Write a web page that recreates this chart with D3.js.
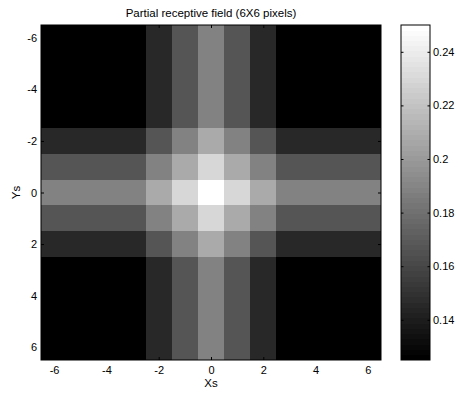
<!DOCTYPE html>
<html>
<head>
<meta charset="utf-8">
<script src="https://cdn.jsdelivr.net/npm/d3@7"></script>
<style>
  html, body { margin: 0; padding: 0; background: #fff; }
  svg { display: block; font-family: "Liberation Sans", Arial, sans-serif; }
</style>
</head>
<body>
<svg id="chart" width="459" height="395"></svg>
<script>
// Grid coordinates (pixel offsets of the receptive field)
const xs = [-6, -5, -4, -3, -2, -1, 0, 1, 2, 3, 4, 5, 6];
const ys = [-6, -5, -4, -3, -2, -1, 0, 1, 2, 3, 4, 5, 6];

// Weight of each cell, one row per ys value
const values = [
  [0.125, 0.125, 0.125, 0.125, 0.1458, 0.1667, 0.1875, 0.1667, 0.1458, 0.125, 0.125, 0.125, 0.125],
  [0.125, 0.125, 0.125, 0.125, 0.1458, 0.1667, 0.1875, 0.1667, 0.1458, 0.125, 0.125, 0.125, 0.125],
  [0.125, 0.125, 0.125, 0.125, 0.1458, 0.1667, 0.1875, 0.1667, 0.1458, 0.125, 0.125, 0.125, 0.125],
  [0.125, 0.125, 0.125, 0.125, 0.1458, 0.1667, 0.1875, 0.1667, 0.1458, 0.125, 0.125, 0.125, 0.125],
  [0.1458, 0.1458, 0.1458, 0.1458, 0.1667, 0.1875, 0.2083, 0.1875, 0.1667, 0.1458, 0.1458, 0.1458, 0.1458],
  [0.1667, 0.1667, 0.1667, 0.1667, 0.1875, 0.2083, 0.2292, 0.2083, 0.1875, 0.1667, 0.1667, 0.1667, 0.1667],
  [0.1875, 0.1875, 0.1875, 0.1875, 0.2083, 0.2292, 0.25, 0.2292, 0.2083, 0.1875, 0.1875, 0.1875, 0.1875],
  [0.1667, 0.1667, 0.1667, 0.1667, 0.1875, 0.2083, 0.2292, 0.2083, 0.1875, 0.1667, 0.1667, 0.1667, 0.1667],
  [0.1458, 0.1458, 0.1458, 0.1458, 0.1667, 0.1875, 0.2083, 0.1875, 0.1667, 0.1458, 0.1458, 0.1458, 0.1458],
  [0.125, 0.125, 0.125, 0.125, 0.1458, 0.1667, 0.1875, 0.1667, 0.1458, 0.125, 0.125, 0.125, 0.125],
  [0.125, 0.125, 0.125, 0.125, 0.1458, 0.1667, 0.1875, 0.1667, 0.1458, 0.125, 0.125, 0.125, 0.125],
  [0.125, 0.125, 0.125, 0.125, 0.1458, 0.1667, 0.1875, 0.1667, 0.1458, 0.125, 0.125, 0.125, 0.125],
  [0.125, 0.125, 0.125, 0.125, 0.1458, 0.1667, 0.1875, 0.1667, 0.1458, 0.125, 0.125, 0.125, 0.125]
];

const axisTicks = [-6, -4, -2, 0, 2, 4, 6];
const colorbarTicks = [0.14, 0.16, 0.18, 0.2, 0.22, 0.24];

const titleText = "Partial receptive field (6X6 pixels)";
const xLabel = "Xs";
const yLabel = "Ys";

const svg = d3.select("#chart");

const plot = { left: 41, right: 381, top: 25, bottom: 360 };
const bar = { left: 401, right: 430, top: 25, bottom: 360 };

// Cell-centred linear scales (each cell spans ±0.5)
const x = d3.scaleLinear().domain([-6.5, 6.5]).range([plot.left, plot.right]);
const y = d3.scaleLinear().domain([-6.5, 6.5]).range([plot.top, plot.bottom]);

const flat = values.flat();
const vExtent = d3.extent(flat);

// 64-step gray colormap
const nColors = 64;
const grays = d3.range(nColors).map(i => {
  const g = Math.round(255 * i / (nColors - 1));
  return d3.rgb(g, g, g).formatHex();
});
const color = d3.scaleQuantize().domain(vExtent).range(grays);

// Heatmap cells
const cells = [];
ys.forEach((yv, r) => xs.forEach((xv, c) => cells.push({ x: xv, y: yv, v: values[r][c] })));

svg.append("g")
  .selectAll("rect")
  .data(cells)
  .join("rect")
  .attr("x", d => x(d.x - 0.5))
  .attr("y", d => y(d.y - 0.5))
  .attr("width", d => x(d.x + 0.5) - x(d.x - 0.5) + 0.3)
  .attr("height", d => y(d.y + 0.5) - y(d.y - 0.5) + 0.3)
  .attr("fill", d => color(d.v))
  .attr("shape-rendering", "crispEdges");

const tickLen = 3;
const plainNum = d => String(d);
const axStyle = g => {
  g.select(".domain").remove();
  g.selectAll(".tick line").attr("stroke", "#000");
  g.selectAll(".tick text").attr("fill", "#000").style("font-size", "11px")
    .style("font-family", '"Liberation Sans", Arial, sans-serif');
};

// Axes with inward ticks on all four sides
svg.append("g")
  .attr("transform", `translate(0,${plot.bottom})`)
  .call(d3.axisBottom(x).tickValues(axisTicks).tickSize(-tickLen).tickPadding(6).tickFormat(plainNum))
  .call(axStyle);
svg.append("g")
  .attr("transform", `translate(0,${plot.top})`)
  .call(d3.axisTop(x).tickValues(axisTicks).tickSize(-tickLen).tickFormat(""))
  .call(axStyle);
svg.append("g")
  .attr("transform", `translate(${plot.left},0)`)
  .call(d3.axisLeft(y).tickValues(axisTicks).tickSize(-tickLen).tickPadding(4).tickFormat(plainNum))
  .call(axStyle);
svg.append("g")
  .attr("transform", `translate(${plot.right},0)`)
  .call(d3.axisRight(y).tickValues(axisTicks).tickSize(-tickLen).tickFormat(""))
  .call(axStyle);

svg.append("rect")
  .attr("x", plot.left).attr("y", plot.top)
  .attr("width", plot.right - plot.left).attr("height", plot.bottom - plot.top)
  .attr("fill", "none").attr("stroke", "#000").attr("stroke-width", 1);

// Colorbar
const cb = d3.scaleLinear().domain(vExtent).range([bar.bottom, bar.top]);
const step = (vExtent[1] - vExtent[0]) / nColors;
svg.append("g")
  .selectAll("rect")
  .data(grays)
  .join("rect")
  .attr("x", bar.left)
  .attr("width", bar.right - bar.left)
  .attr("y", (d, i) => cb(vExtent[0] + (i + 1) * step))
  .attr("height", (d, i) => cb(vExtent[0] + i * step) - cb(vExtent[0] + (i + 1) * step) + 0.3)
  .attr("fill", d => d)
  .attr("shape-rendering", "crispEdges");

svg.append("g")
  .attr("transform", `translate(${bar.right},0)`)
  .call(d3.axisRight(cb).tickValues(colorbarTicks).tickSize(-2.5).tickPadding(3).tickFormat(plainNum))
  .call(axStyle);
svg.append("g")
  .attr("transform", `translate(${bar.left},0)`)
  .call(d3.axisLeft(cb).tickValues(colorbarTicks).tickSize(-2.5).tickFormat(""))
  .call(axStyle);

svg.append("rect")
  .attr("x", bar.left).attr("y", bar.top)
  .attr("width", bar.right - bar.left).attr("height", bar.bottom - bar.top)
  .attr("fill", "none").attr("stroke", "#000").attr("stroke-width", 1);

// Title and axis labels
svg.append("text")
  .attr("x", (plot.left + plot.right) / 2).attr("y", 17)
  .attr("text-anchor", "middle").style("font-size", "11.5px")
  .text(titleText);

svg.append("text")
  .attr("x", (plot.left + plot.right) / 2).attr("y", 387)
  .attr("text-anchor", "middle").style("font-size", "11.5px")
  .text(xLabel);

svg.append("text")
  .attr("transform", `translate(20,${(plot.top + plot.bottom) / 2}) rotate(-90)`)
  .attr("text-anchor", "middle").style("font-size", "11.5px")
  .text(yLabel);
</script>
</body>
</html>
